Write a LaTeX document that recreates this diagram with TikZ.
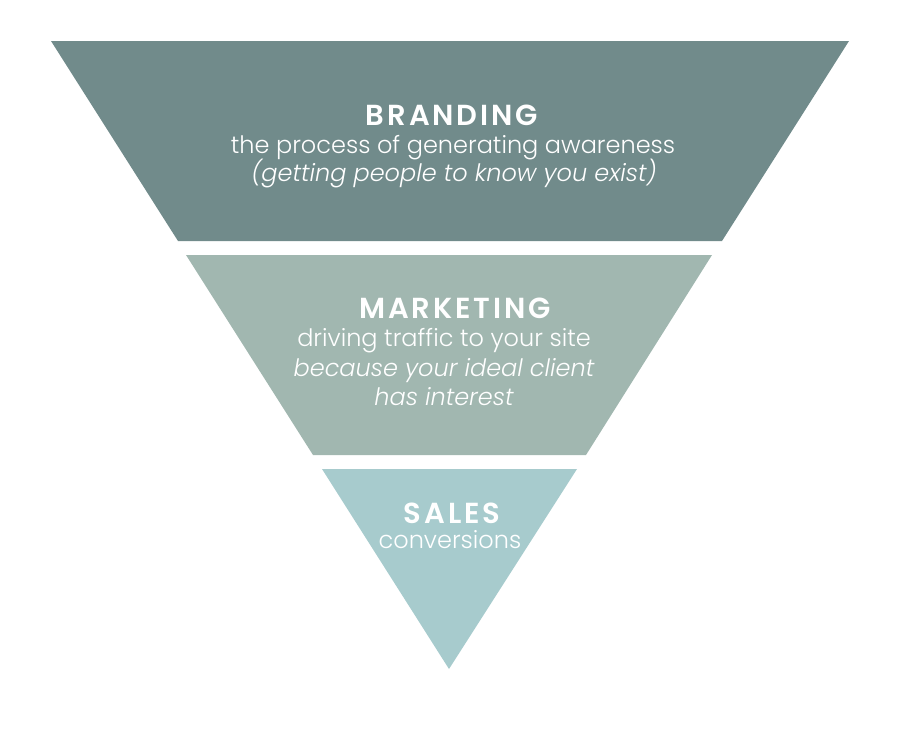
\documentclass[tikz,border=0pt]{standalone}
\usepackage{fontspec}
\setmainfont{Poppins}[UprightFont=* Light, ItalicFont=* Light Italic, BoldFont=* SemiBold]
\usepackage{tikz}

\definecolor{brandcol}{RGB}{113,139,139}
\definecolor{marketcol}{RGB}{161,183,176}
\definecolor{salescol}{RGB}{167,203,205}

\begin{document}
\begin{tikzpicture}[x=1pt,y=-1pt,
heading/.style={text=white,anchor=base,font=\fontsize{29}{29}\selectfont\bfseries\addfontfeature{LetterSpace=10}},
bodytext/.style={text=white,anchor=base,font=\fontsize{24}{24}\selectfont},
asidetext/.style={bodytext,font=\fontsize{24}{24}\selectfont\itshape}]
\useasboundingbox (0,0) rectangle (900,748);

% funnel
\fill[brandcol] (51,41) -- (849,41) -- (722,241) -- (178,241) -- cycle;
\fill[marketcol] (186,255) -- (712,255) -- (586,455) -- (313,455) -- cycle;
\fill[salescol] (322,469) -- (577,469) -- (449,669) -- cycle;

\node (Branding) [heading] at (452,125) {BRANDING};
\node (BrandingWhat) [bodytext] at (453,153) {the process of generating awareness};
\node (BrandingWhy) [asidetext] at (454,181) {(getting people to know you exist)};

\node (Marketing) [heading] at (455,318) {MARKETING};
\node (MarketingWhat) [bodytext] at (444,346) {driving traffic to your site};
\node (MarketingWhy) [asidetext] at (444,376) {because your ideal client};
\node (MarketingWhy2) [asidetext] at (444,405) {has interest};

\node (Sales) [heading] at (452,523) {SALES};
\node (SalesWhat) [bodytext] at (450,548) {conversions};
\end{tikzpicture}
\end{document}
